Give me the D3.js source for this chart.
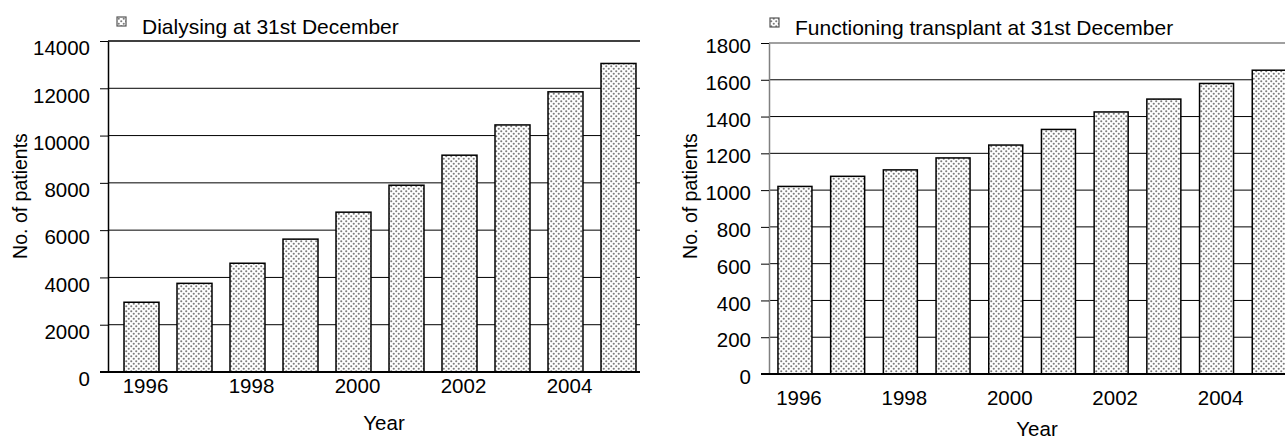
<!DOCTYPE html>
<html>
<head>
<meta charset="utf-8">
<script src="https://cdn.jsdelivr.net/npm/d3@7"></script>
<style>
  body { margin: 0; background: #fff; }
  text { font-family: "Liberation Sans", Arial, sans-serif; fill: #000; }
</style>
</head>
<body>
<svg id="chart" width="1285" height="439"></svg>
<script>
  const years = [1996, 1997, 1998, 1999, 2000, 2001, 2002, 2003, 2004, 2005];
  const yearLabels = [1996, 1998, 2000, 2002, 2004];
  const dialysing = [2950, 3750, 4600, 5620, 6760, 7900, 9170, 10450, 11850, 13050];
  const transplant = [1020, 1075, 1110, 1175, 1245, 1330, 1425, 1495, 1580, 1652];
  const dialysingTicks = [0, 2000, 4000, 6000, 8000, 10000, 12000, 14000];
  const transplantTicks = [0, 200, 400, 600, 800, 1000, 1200, 1400, 1600, 1800];

  const svg = d3.select("#chart");

  // dotted fill for the bars
  const P = 5;
  const pat = svg.append("defs").append("pattern")
    .attr("id", "dots")
    .attr("patternUnits", "userSpaceOnUse")
    .attr("width", P)
    .attr("height", P);
  pat.append("rect").attr("width", P).attr("height", P).attr("fill", "#fff");
  pat.append("circle").attr("cx", P / 4).attr("cy", P / 4).attr("r", 1.05).attr("fill", "#7c7c7c");
  pat.append("circle").attr("cx", 3 * P / 4).attr("cy", 3 * P / 4).attr("r", 1.05).attr("fill", "#7c7c7c");

  function drawPanel(cfg) {
    const g = svg.append("g");
    const x = d3.scaleBand().domain(years).range(cfg.xRange)
      .paddingInner(cfg.padIn).paddingOuter(cfg.padIn / 2);
    const y = d3.scaleLinear().domain([0, d3.max(cfg.ticks)]).range([cfg.y0, cfg.yTop]);

    // gridlines
    g.selectAll("line.grid").data(cfg.ticks).join("line")
      .attr("class", "grid")
      .attr("x1", cfg.axisX).attr("x2", cfg.gridEnd)
      .attr("y1", d => y(d)).attr("y2", d => y(d))
      .attr("stroke", d => (d === d3.max(cfg.ticks) ? cfg.topColor : "#000"))
      .attr("stroke-width", d => (d === d3.max(cfg.ticks) ? 1.5 : 1));

    // bars
    g.selectAll("rect.bar").data(cfg.values).join("rect")
      .attr("class", "bar")
      .attr("x", (d, i) => x(years[i]))
      .attr("width", x.bandwidth())
      .attr("y", d => y(d))
      .attr("height", d => y(0) - y(d))
      .attr("fill", "url(#dots)")
      .attr("stroke", "#000")
      .attr("stroke-width", 1.5);

    // y axis
    const ax = g.append("g")
      .attr("transform", `translate(${cfg.axisX},0)`)
      .call(d3.axisLeft(y).tickValues(cfg.ticks).tickFormat(d3.format("d"))
        .tickSize(8).tickSizeOuter(0).tickPadding(10));
    ax.select(".domain").attr("stroke", cfg.axisColor).attr("stroke-width", 1.5);
    ax.selectAll(".tick line").attr("stroke", "#000");
    ax.selectAll(".tick text")
      .attr("font-size", 20.5)
      .attr("dy", cfg.labelDy);

    // baseline
    g.append("line")
      .attr("x1", cfg.axisX - 8).attr("x2", cfg.gridEnd)
      .attr("y1", y(0)).attr("y2", y(0))
      .attr("stroke", "#000").attr("stroke-width", 2);

    // x labels
    g.selectAll("text.xl").data(yearLabels).join("text")
      .attr("class", "xl")
      .attr("x", d => x(d) + x.bandwidth() / 2 + 4)
      .attr("y", cfg.xLabelY)
      .attr("text-anchor", "middle")
      .attr("font-size", 20.5)
      .text(d => d);

    g.append("text")
      .attr("x", cfg.yearX).attr("y", cfg.yearY)
      .attr("text-anchor", "middle")
      .attr("font-size", 20.5)
      .text("Year");

    g.append("text")
      .attr("transform", `translate(${cfg.ylabX},${cfg.ylabY}) rotate(-90)`)
      .attr("text-anchor", "middle")
      .attr("font-size", 19.5)
      .text("No. of patients");

    // legend
    g.append("rect")
      .attr("x", cfg.legX).attr("y", cfg.legY)
      .attr("width", 9).attr("height", 9)
      .attr("fill", "url(#dots)")
      .attr("stroke", "#555").attr("stroke-width", 1.2);
    g.append("text")
      .attr("x", cfg.legX + 25).attr("y", cfg.legY + 17)
      .attr("font-size", 21)
      .text(cfg.legend);
  }

  drawPanel({
    values: dialysing, ticks: dialysingTicks,
    xRange: [115, 645], padIn: 0.34,
    y0: 372, yTop: 41, axisX: 108, gridEnd: 640,
    topColor: "#000", axisColor: "#000", labelDy: "0.67em",
    xLabelY: 393, yearX: 384, yearY: 430,
    ylabX: 27, ylabY: 196,
    legX: 117, legY: 17, legend: "Dialysing at 31st December"
  });

  drawPanel({
    values: transplant, ticks: transplantTicks,
    xRange: [768.6, 1295.6], padIn: 0.355,
    y0: 374, yTop: 43, axisX: 769, gridEnd: 1285,
    topColor: "#808080", axisColor: "#808080", labelDy: "0.47em",
    xLabelY: 405, yearX: 1037, yearY: 436,
    ylabX: 697, ylabY: 196,
    legX: 770, legY: 18, legend: "Functioning transplant at 31st December"
  });
</script>
</body>
</html>
